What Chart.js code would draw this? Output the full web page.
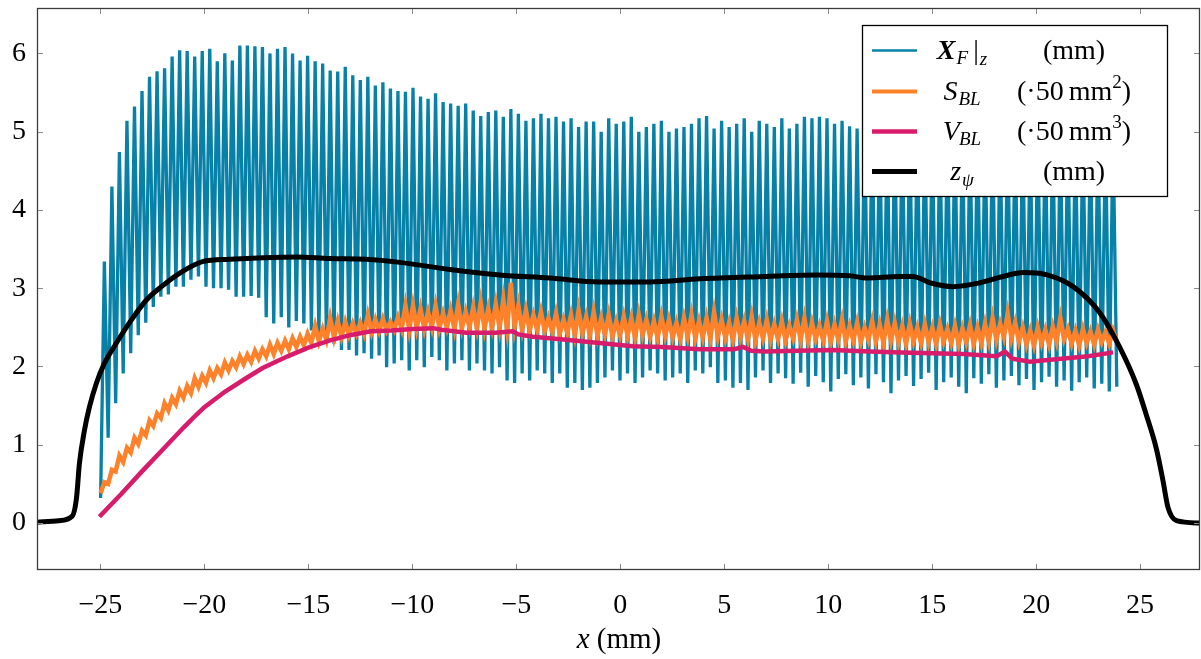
<!DOCTYPE html>
<html>
<head>
<meta charset="utf-8">
<script src="https://cdn.jsdelivr.net/npm/chart.js@4.4.1/dist/chart.umd.min.js"></script>
<style>html,body{margin:0;padding:0;background:#fff}</style>
</head>
<body>
<canvas id="blChart" width="1201" height="659"></canvas>
<script>
// cycle grid of the oscillating signals (one peak per cycle), mm
const CYCLE_X0 = -24.81;
const CYCLE_DX = 0.362;

// X_F|z peaks (at each cycle) and troughs (half a cycle before each peak, plus one after the last)
const xfPeaks = [
  3.34, 4.30, 4.74, 5.14, 5.32, 5.52, 5.70, 5.77, 5.81, 5.96,
  6.04, 6.03, 5.96, 6.03, 6.06, 5.90, 6.00, 5.91, 6.10, 6.10,
  6.09, 6.08, 6.00, 6.06, 6.08, 6.00, 5.91, 5.97, 5.90, 5.87,
  5.78, 5.77, 5.83, 5.72, 5.66, 5.70, 5.59, 5.63, 5.55, 5.52,
  5.51, 5.56, 5.45, 5.42, 5.49, 5.38, 5.36, 5.33, 5.36, 5.27,
  5.20, 5.25, 5.27, 5.19, 5.29, 5.23, 5.14, 5.17, 5.23, 5.17,
  5.19, 5.13, 5.17, 5.06, 5.13, 5.13, 5.00, 5.17, 5.10, 5.13,
  5.19, 5.00, 5.06, 5.10, 5.14, 5.00, 5.04, 5.06, 5.10, 5.17,
  5.20, 5.04, 5.14, 5.06, 5.10, 5.17, 5.00, 5.14, 5.10, 5.06,
  5.17, 5.04, 5.10, 5.19, 5.17, 5.19, 5.17, 5.10, 5.14, 5.07,
  5.04, 5.17, 5.13, 5.08, 5.10, 5.05, 5.12, 5.06, 5.10, 5.04,
  5.08, 5.02, 5.10, 5.05, 5.07, 5.03, 5.09, 5.04, 5.06, 5.02,
  5.08, 5.03, 5.05, 5.00, 5.06, 5.02, 5.04, 5.00, 5.05, 5.01,
  5.03, 4.98, 5.02, 4.99, 5.00
];
const xfTroughs = [
  0.32, 1.09, 1.53, 1.91, 2.17, 2.40, 2.56, 2.76, 2.89, 2.92,
  3.02, 3.02, 3.11, 3.15, 3.02, 3.00, 3.00, 2.98, 2.89, 2.89,
  2.90, 2.88, 2.63, 2.55, 2.63, 2.50, 2.58, 2.55, 2.46, 2.40,
  2.34, 2.29, 2.21, 2.21, 2.14, 2.17, 2.10, 2.14, 1.99, 2.04,
  2.08, 1.95, 2.08, 1.99, 2.12, 2.08, 1.95, 2.04, 2.08, 1.95,
  2.04, 1.95, 1.91, 1.99, 1.82, 1.79, 1.91, 1.82, 1.95, 1.91,
  1.79, 1.91, 1.73, 1.79, 1.70, 1.73, 1.79, 1.86, 1.95, 1.82,
  1.91, 1.79, 1.86, 1.95, 1.91, 1.82, 1.86, 1.91, 1.79, 1.95,
  1.91, 1.99, 1.79, 1.82, 1.73, 1.79, 1.70, 1.86, 1.95, 1.79,
  1.91, 1.85, 1.78, 1.92, 1.74, 1.88, 1.80, 1.68, 1.84, 1.90,
  1.76, 1.86, 1.72, 1.90, 1.80, 1.66, 1.82, 1.88, 1.75, 1.84,
  1.92, 1.70, 1.80, 1.86, 1.74, 1.66, 1.85, 1.78, 1.90, 1.73,
  1.82, 1.88, 1.76, 1.84, 1.70, 1.80, 1.87, 1.74, 1.82, 1.69,
  1.80, 1.86, 1.72, 1.78, 1.68, 1.74
];

// S_BL highs (at cycle peaks) and lows (between peaks)
const sblHigh = [
  0.52, 0.68, 0.86, 0.96, 1.09, 1.18, 1.31, 1.40, 1.53, 1.60,
  1.69, 1.75, 1.85, 1.88, 1.95, 1.98, 2.05, 2.07, 2.13, 2.15,
  2.20, 2.22, 2.28, 2.30, 2.33, 2.36, 2.38, 2.42, 2.52, 2.48,
  2.62, 2.58, 2.57, 2.55, 2.56, 2.66, 2.60, 2.61, 2.57, 2.63,
  2.78, 2.78, 2.74, 2.70, 2.78, 2.68, 2.72, 2.80, 2.70, 2.76,
  2.82, 2.74, 2.80, 2.86, 3.07, 2.78, 2.72, 2.66, 2.70, 2.62,
  2.68, 2.60, 2.66, 2.72, 2.64, 2.70, 2.62, 2.66, 2.58, 2.64,
  2.62, 2.66, 2.60, 2.58, 2.64, 2.60, 2.56, 2.62, 2.66, 2.58,
  2.62, 2.70, 2.60, 2.56, 2.62, 2.58, 2.64, 2.56, 2.60, 2.54,
  2.58, 2.52, 2.60, 2.62, 2.56, 2.52, 2.58, 2.54, 2.60, 2.52,
  2.56, 2.50, 2.58, 2.54, 2.60, 2.56, 2.52, 2.55, 2.50, 2.54,
  2.50, 2.54, 2.48, 2.52, 2.49, 2.53, 2.50, 2.55, 2.62, 2.55,
  2.68, 2.56, 2.50, 2.46, 2.50, 2.47, 2.51, 2.62, 2.48, 2.46,
  2.48, 2.45, 2.47, 2.44, 2.46
];
const sblLow = [
  0.38, 0.50, 0.66, 0.78, 0.90, 1.01, 1.12, 1.24, 1.34, 1.44,
  1.52, 1.60, 1.66, 1.74, 1.79, 1.85, 1.90, 1.95, 1.99, 2.03,
  2.06, 2.10, 2.13, 2.16, 2.20, 2.22, 2.25, 2.27, 2.30, 2.32,
  2.34, 2.37, 2.38, 2.40, 2.42, 2.42, 2.44, 2.45, 2.46, 2.47,
  2.48, 2.47, 2.49, 2.48, 2.50, 2.49, 2.50, 2.48, 2.49, 2.50,
  2.49, 2.48, 2.50, 2.49, 2.48, 2.50, 2.47, 2.46, 2.47, 2.45,
  2.44, 2.42, 2.43, 2.40, 2.42, 2.40, 2.39, 2.41, 2.38, 2.40,
  2.39, 2.37, 2.40, 2.38, 2.36, 2.39, 2.37, 2.35, 2.38, 2.36,
  2.37, 2.35, 2.38, 2.36, 2.34, 2.37, 2.35, 2.33, 2.36, 2.34,
  2.35, 2.33, 2.36, 2.34, 2.32, 2.35, 2.33, 2.31, 2.34, 2.32,
  2.33, 2.31, 2.34, 2.32, 2.30, 2.33, 2.31, 2.29, 2.32, 2.30,
  2.31, 2.29, 2.32, 2.30, 2.28, 2.31, 2.29, 2.30, 2.32, 2.34,
  2.38, 2.36, 2.32, 2.28, 2.27, 2.30, 2.28, 2.32, 2.35, 2.29,
  2.27, 2.30, 2.28, 2.31, 2.29, 2.32
];

// V_BL
const vblX = [-25.05, -24.0, -23.0, -22.0, -21.0, -20.4, -20.0, -19.0, -18.0, -17.2,
  -16.0, -15.0, -14.0, -13.0, -12.0, -11.0, -10.0, -9.0, -8.6, -7.4,
  -6.0, -5.17, -4.9, -4.2, -3.0, -1.0, 0.6, 2.0, 3.8, 5.5,
  5.9, 6.3, 7.0, 8.5, 10.2, 12.0, 13.5, 15.0, 16.5, 18.1,
  18.5, 18.85, 19.7, 21.2, 22.5, 23.7];
const vblY = [0.08, 0.37, 0.66, 0.94, 1.22, 1.38, 1.48, 1.68, 1.85, 1.98,
  2.13, 2.24, 2.33, 2.40, 2.45, 2.46, 2.48, 2.49, 2.47, 2.43,
  2.43, 2.45, 2.41, 2.38, 2.35, 2.30, 2.26, 2.25, 2.22, 2.22,
  2.25, 2.20, 2.19, 2.20, 2.21, 2.19, 2.18, 2.17, 2.16, 2.13,
  2.19, 2.10, 2.06, 2.10, 2.13, 2.18];

// z_psi
const zpsiX = [-28.05, -27.0, -26.35, -26.15, -26.01, -25.77, -25.53, -25.19, -24.81, -24.23,
  -23.60, -22.79, -22.02, -21.20, -20.09, -18.79, -17.20, -15.57, -13.98, -12.20,
  -10.60, -8.20, -5.80, -3.39, -0.99, 1.42, 3.83, 7.05, 9.45, 11.04,
  11.86, 13.45, 14.08, 14.89, 16.00, 17.30, 18.40, 19.37, 20.52, 21.78,
  23.05, 24.01, 24.82, 25.30, 25.78, 26.10, 26.34, 26.75, 27.88];
const zpsiY = [0.01, 0.03, 0.09, 0.32, 0.76, 1.18, 1.48, 1.79, 2.04, 2.30,
  2.56, 2.85, 3.03, 3.19, 3.34, 3.37, 3.39, 3.40, 3.38, 3.37,
  3.33, 3.24, 3.17, 3.13, 3.08, 3.08, 3.12, 3.15, 3.17, 3.16,
  3.13, 3.15, 3.15, 3.07, 3.02, 3.07, 3.15, 3.20, 3.17, 3.02,
  2.69, 2.25, 1.77, 1.38, 0.95, 0.54, 0.20, 0.03, 0.00];

const xTickValues = [-25, -20, -15, -10, -5, 0, 5, 10, 15, 20, 25];
const yTickValues = [0, 1, 2, 3, 4, 5, 6];

const XF_COLOR = '#0881a9';
const SBL_COLOR = '#ff8129';
const VBL_COLOR = '#d81c6b';
const SERIF = '"Liberation Serif", "DejaVu Serif", serif';

// troughs sit half a cycle before each peak
function zigzag(lows, highs) {
  const pts = [];
  lows.forEach((lo, j) => {
    pts.push({ x: CYCLE_X0 + CYCLE_DX * (j - 0.5), y: lo });
    if (j < highs.length) pts.push({ x: CYCLE_X0 + CYCLE_DX * j, y: highs[j] });
  });
  return pts;
}
const pairUp = (xs, ys) => xs.map((x, i) => ({ x: x, y: ys[i] }));

const fmtTick = v => String(v).replace('-', '\u2212');

// text runs [text, font, dy, extraGap], centred on cx
function textRun(ctx, cx, y, parts) {
  let w = 0;
  parts.forEach(p => { ctx.font = p[1]; w += ctx.measureText(p[0]).width + (p[3] || 0); });
  let x = cx - w / 2;
  parts.forEach(p => {
    ctx.font = p[1];
    ctx.fillText(p[0], x, y + (p[2] || 0));
    x += ctx.measureText(p[0]).width + (p[3] || 0);
  });
}

const frameTicksLegend = {
  id: 'frameTicksLegend',
  afterDraw(chart) {
    const { ctx, chartArea: a, scales } = chart;
    const sx = scales.x, sy = scales.y;
    ctx.save();

    // inward tick marks on all four sides
    ctx.strokeStyle = '#8a8a8a';
    ctx.lineWidth = 1;
    ctx.beginPath();
    xTickValues.forEach(v => {
      const px = Math.round(sx.getPixelForValue(v)) + 0.5;
      ctx.moveTo(px, a.bottom); ctx.lineTo(px, a.bottom - 6);
      ctx.moveTo(px, a.top); ctx.lineTo(px, a.top + 6);
    });
    yTickValues.forEach(v => {
      const py = Math.round(sy.getPixelForValue(v)) + 0.5;
      ctx.moveTo(a.left, py); ctx.lineTo(a.left + 6, py);
      ctx.moveTo(a.right, py); ctx.lineTo(a.right - 6, py);
    });
    ctx.stroke();

    ctx.strokeStyle = '#3c3c3c';
    ctx.lineWidth = 1.3;
    ctx.strokeRect(a.left + 0.5, a.top + 0.5, a.width - 1, a.height - 1);

    // x axis title
    ctx.fillStyle = '#000';
    ctx.textBaseline = 'alphabetic';
    textRun(ctx, 619, 648, [
      ['x', 'italic 29px ' + SERIF, 0, 7],
      ['(mm)', '29px ' + SERIF]
    ]);

    // legend box
    const bx = 862, by = 25, bw = 305, bh = 171;
    ctx.fillStyle = '#fff';
    ctx.fillRect(bx, by, bw, bh);
    ctx.strokeStyle = '#000';
    ctx.lineWidth = 1.3;
    ctx.strokeRect(bx + 0.5, by + 0.5, bw, bh);

    const big = '28px ' + SERIF, bigI = 'italic 28px ' + SERIF, small = '19px ' + SERIF, smallI = 'italic 19px ' + SERIF;
    const rows = [
      { color: XF_COLOR, width: 2.4, base: 59,
        sym: [['X', 'italic bold 28px ' + SERIF, 0, 1], ['F', smallI, 5, 5], ['|', big, 0, 1], ['z', smallI, 6]],
        unit: [['(mm)', big]] },
      { color: SBL_COLOR, width: 4, base: 100,
        sym: [['S', bigI, 0, 1], ['BL', smallI, 5]],
        unit: [['(\u00b750', big, 0, 5], ['mm', big], ['2', small, -12], [')', big]] },
      { color: VBL_COLOR, width: 4.5, base: 140,
        sym: [['V', bigI, 0, -1], ['BL', smallI, 5]],
        unit: [['(\u00b750', big, 0, 5], ['mm', big], ['3', small, -12], [')', big]] },
      { color: '#000', width: 5, base: 180,
        sym: [['z', bigI, 0, 1], ['\u03c8', smallI, 6]],
        unit: [['(mm)', big]] }
    ];
    rows.forEach(r => {
      ctx.strokeStyle = r.color;
      ctx.lineWidth = r.width;
      ctx.beginPath();
      ctx.moveTo(872, r.base - 8.5);
      ctx.lineTo(917, r.base - 8.5);
      ctx.stroke();
      ctx.fillStyle = '#000';
      textRun(ctx, 962, r.base, r.sym);
      textRun(ctx, 1074, r.base, r.unit);
    });
    ctx.restore();
  }
};

new Chart(document.getElementById('blChart'), {
  type: 'line',
  data: {
    datasets: [
      { label: 'z_psi (mm)', data: pairUp(zpsiX, zpsiY), borderColor: '#000', borderWidth: 5,
        cubicInterpolationMode: 'monotone', order: 0 },
      { label: 'V_BL (x50 mm3)', data: pairUp(vblX, vblY), borderColor: VBL_COLOR, borderWidth: 4.5, order: 1 },
      { label: 'S_BL (x50 mm2)', data: zigzag(sblLow, sblHigh), borderColor: SBL_COLOR, borderWidth: 4.5, order: 2 },
      { label: 'X_F|z (mm)', data: zigzag(xfTroughs, xfPeaks), borderColor: XF_COLOR, borderWidth: 3.3, order: 3 }
    ]
  },
  options: {
    responsive: false,
    animation: false,
    events: [],
    layout: { padding: { top: 8, right: 1, left: 0, bottom: 0 } },
    elements: { point: { radius: 0 }, line: { tension: 0, fill: false } },
    plugins: { legend: { display: false }, tooltip: { enabled: false } },
    scales: {
      x: {
        type: 'linear', min: -28.05, max: 27.88,
        afterBuildTicks: s => { s.ticks = xTickValues.map(v => ({ value: v })); },
        afterFit: s => { s.height = 89; s.paddingLeft = 0; s.paddingRight = 0; },
        grid: { display: false, drawTicks: false },
        border: { display: false },
        ticks: { padding: 19, color: '#000', font: { family: SERIF, size: 28 }, maxRotation: 0, autoSkip: false, callback: fmtTick }
      },
      y: {
        type: 'linear', min: -0.6, max: 6.58,
        afterBuildTicks: s => { s.ticks = yTickValues.map(v => ({ value: v })); },
        afterFit: s => { s.width = 37; s.paddingTop = 0; s.paddingBottom = 0; },
        grid: { display: false, drawTicks: false },
        border: { display: false },
        ticks: { padding: 11, color: '#000', font: { family: SERIF, size: 28 }, callback: fmtTick }
      }
    }
  },
  plugins: [frameTicksLegend]
});
</script>
</body>
</html>
